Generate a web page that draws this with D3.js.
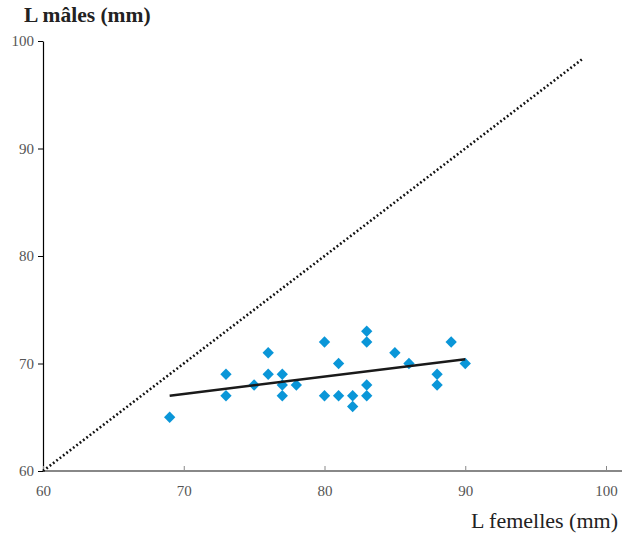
<!DOCTYPE html>
<html>
<head>
<meta charset="utf-8">
<script src="https://cdn.jsdelivr.net/npm/d3@7"></script>
<style>
  html, body { margin: 0; padding: 0; background: #fff; }
  svg { display: block; }
</style>
</head>
<body>
<svg id="chart" width="624" height="536"></svg>
<script>
// Body length of females (x) and males (y), mm
const femaleLength = [69, 73, 73, 75, 76, 76, 77, 77, 77, 78, 80, 80, 81, 81, 82, 82, 83, 83, 83, 83, 85, 86, 88, 88, 89, 90];
const maleLength   = [65, 69, 67, 68, 71, 69, 69, 68, 67, 68, 72, 67, 70, 67, 67, 66, 73, 72, 68, 67, 71, 70, 69, 68, 72, 70];

// Fitted trend line endpoints [x, y]
const trendX = [69, 90];
const trendY = [67.0, 70.4];

// Identity line (male = female) endpoints
const identityX = [60, 98.4];

const xTicks = [60, 70, 80, 90, 100];
const yTicks = [60, 70, 80, 90, 100];

const svg = d3.select("#chart");
const font = "'Liberation Serif', 'DejaVu Serif', serif";

const x = d3.scaleLinear().domain([60, 100]).range([43, 606]);
const y = d3.scaleLinear().domain([60, 100]).range([471, 41]);

// Y axis (ticks outward, black)
const yAxis = svg.append("g")
  .attr("transform", `translate(${x(60)},0)`)
  .call(d3.axisLeft(y).tickValues(yTicks).tickSize(5).tickSizeOuter(0).tickPadding(4));
yAxis.select(".domain").attr("stroke", "#000").attr("stroke-width", 1.2);
yAxis.selectAll(".tick line").attr("stroke", "#000");
yAxis.selectAll("text").attr("font-family", font).attr("font-size", 15).attr("fill", "#555");

// X axis (gray, ticks pointing up into the plot)
const xAxis = svg.append("g")
  .attr("transform", `translate(0,${y(60)})`)
  .call(d3.axisBottom(x).tickValues(xTicks).tickSize(-5).tickSizeOuter(0).tickPadding(14));
xAxis.select(".domain").remove();
xAxis.append("line")
  .attr("x1", x(60)).attr("x2", 622)
  .attr("stroke", "#888").attr("stroke-width", 2);
xAxis.selectAll(".tick line").attr("stroke", "#888");
xAxis.selectAll("text").attr("font-family", font).attr("font-size", 15).attr("fill", "#555");

// Identity line
svg.append("line")
  .attr("x1", x(identityX[0])).attr("y1", y(identityX[0]))
  .attr("x2", x(identityX[1])).attr("y2", y(identityX[1]))
  .attr("stroke", "#111").attr("stroke-width", 2.6)
  .attr("stroke-dasharray", "1.8 2.4");

// Data points as diamonds
const diamond = d3.symbol().type(d3.symbolSquare).size(64);
svg.append("g").selectAll("path")
  .data(femaleLength.map((f, i) => [f, maleLength[i]]))
  .join("path")
  .attr("d", diamond)
  .attr("transform", d => `translate(${x(d[0])},${y(d[1])}) rotate(45)`)
  .attr("fill", "#0a96d8");

// Trend line
svg.append("line")
  .attr("x1", x(trendX[0])).attr("y1", y(trendY[0]))
  .attr("x2", x(trendX[1])).attr("y2", y(trendY[1]))
  .attr("stroke", "#1a1a1a").attr("stroke-width", 2.4);

// Axis titles
svg.append("text")
  .attr("x", 24).attr("y", 22)
  .attr("font-family", font).attr("font-size", 21.5).attr("font-weight", "bold")
  .attr("fill", "#222")
  .text("L mâles (mm)");

svg.append("text")
  .attr("x", 618).attr("y", 528)
  .attr("text-anchor", "end")
  .attr("font-family", font).attr("font-size", 22)
  .attr("fill", "#222")
  .text("L femelles (mm)");
</script>
</body>
</html>
